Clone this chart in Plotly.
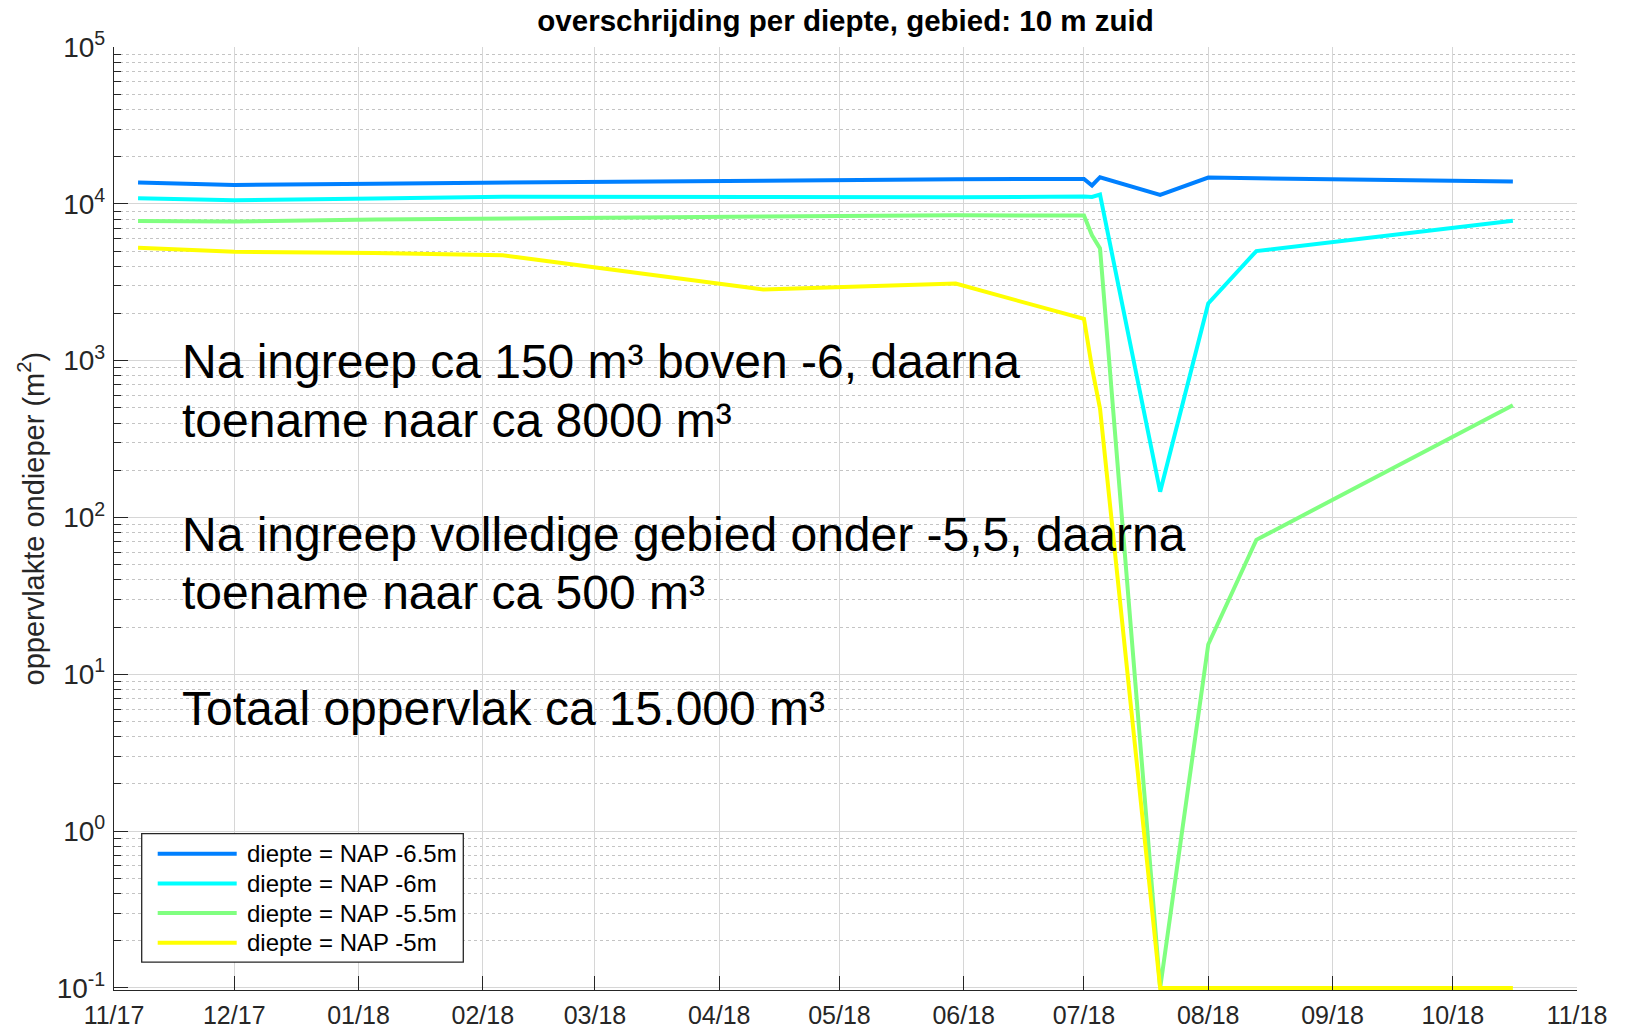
import plotly.graph_objects as go

# Survey dates and exceeded area (m2) per depth level
dates = ["2017-11-07", "2017-12-01", "2018-01-05", "2018-02-06", "2018-04-12",
         "2018-05-30", "2018-07-01", "2018-07-03", "2018-07-05", "2018-07-20",
         "2018-08-01", "2018-08-13", "2018-10-16"]

nap_65 = [13700, 13200, 13450, 13700, 14050, 14350, 14420, 13090, 14780, 11400,
          14700, 14560, 13900]
nap_60 = [10850, 10550, 10800, 11100, 11050, 11000, 11140, 11050, 11470, 146,
          2318, 5000, 7800]
nap_55 = [7780, 7720, 7950, 8100, 8300, 8450, 8430, 6300, 5200, 0.1,
          15.5, 72, 520]
nap_50 = [5250, 4950, 4850, 4700, 2840, 3100, 1845, 900, 495, 0.1,
          0.1, 0.1, 0.1]

series_names = ["diepte = NAP -6.5m", "diepte = NAP -6m",
                "diepte = NAP -5.5m", "diepte = NAP -5m"]
series_values = [nap_65, nap_60, nap_55, nap_50]
series_colors = ["#0080FF", "#00FFFF", "#80FF80", "#FFFF00"]

y_tick_vals = [0.1, 1, 10, 100, 1000, 10000, 100000]
y_tick_text = ["10<sup>-1</sup>", "10<sup>0</sup>", "10<sup>1</sup>", "10<sup>2</sup>",
               "10<sup>3</sup>", "10<sup>4</sup>", "10<sup>5</sup>"]
y_minor_vals = [m * 10 ** e for e in range(-1, 5) for m in range(2, 10)]

notes = [
    "Na ingreep ca 150 m³ boven -6, daarna",
    "toename naar ca 8000 m³",
    "Na ingreep volledige gebied onder -5,5, daarna",
    "toename naar ca 500 m³",
    "Totaal oppervlak ca 15.000 m³",
]

FONT = "Liberation Sans, Arial, sans-serif"
AX = "#262626"

W, H = 1625, 1028
L, R, T, B = 114, 1577, 46.6, 989.6


def px(x):
    return (x - L) / (R - L)


def py(y):
    return (B - y) / (B - T)


fig = go.Figure()
for name, vals, col in zip(series_names, series_values, series_colors):
    fig.add_trace(go.Scatter(x=dates, y=vals, mode="lines", name=name,
                             line=dict(color=col, width=4), showlegend=False))

shapes = []
annotations = []

# legend box
shapes.append(dict(type="rect", xref="paper", yref="paper", layer="above",
                   x0=px(141.7), x1=px(463.3), y0=py(961.7), y1=py(833.3),
                   fillcolor="white", line=dict(color=AX, width=1.3)))
for i, (name, col) in enumerate(zip(series_names, series_colors)):
    yy = py(853.3 + i * 29.7)
    shapes.append(dict(type="line", xref="paper", yref="paper", layer="above",
                       x0=px(157.7), x1=px(236.7), y0=yy, y1=yy,
                       line=dict(color=col, width=4)))
    annotations.append(dict(xref="paper", yref="paper", x=px(245), y=yy,
                            xanchor="left", yanchor="middle", showarrow=False,
                            text=name, font=dict(family=FONT, size=24, color="black")))

# explanatory notes
note_y = [360.7, 419.7, 533.7, 591.8, 707.9]
for txt, yy in zip(notes, note_y):
    annotations.append(dict(xref="paper", yref="paper", x=px(180), y=py(yy),
                            xanchor="left", yanchor="middle", showarrow=False,
                            text=txt, font=dict(family=FONT, size=48, color="black")))

# y-axis title
annotations.append(dict(xref="paper", yref="paper", x=px(31), y=0.5,
                        xanchor="center", yanchor="middle", showarrow=False,
                        textangle=-90, text="oppervlakte ondieper (m<sup>2</sup>)",
                        font=dict(family=FONT, size=29, color=AX)))

fig.update_layout(
    width=W, height=H,
    margin=dict(l=L, r=W - R, t=T, b=H - B, pad=0),
    paper_bgcolor="white", plot_bgcolor="white",
    title=dict(text="<b>overschrijding per diepte, gebied: 10 m zuid</b>",
               x=0.5, xref="paper", xanchor="center", y=1 - 21 / H, yanchor="middle",
               font=dict(family=FONT, size=29.5, color="black")),
    shapes=shapes, annotations=annotations,
    xaxis=dict(
        type="date", range=["2017-11-01", "2018-11-01"],
        tick0="2017-11-01", dtick="M1", tickformat="%m/%y",
        showgrid=True, gridcolor="#D6D6D6", gridwidth=1,
        showline=True, linecolor=AX, linewidth=1.3,
        ticks="inside", ticklen=14, tickcolor=AX, tickwidth=1.3,
        tickfont=dict(family=FONT, size=25, color=AX),
        ticklabelstandoff=3, automargin=False, zeroline=False,
    ),
    yaxis=dict(
        type="log", range=[-1.013, 5],
        tickmode="array", tickvals=y_tick_vals, ticktext=y_tick_text,
        showgrid=True, gridcolor="#D6D6D6", gridwidth=1,
        showline=True, linecolor=AX, linewidth=1.3,
        ticks="inside", ticklen=14, tickcolor=AX, tickwidth=1.3,
        tickfont=dict(family=FONT, size=28, color=AX),
        ticklabelstandoff=2, automargin=False, zeroline=False,
        minor=dict(tickmode="array", tickvals=y_minor_vals, showgrid=True,
                   gridcolor="#C4C4C4", griddash="dot", gridwidth=1,
                   ticks="inside", ticklen=7, tickcolor=AX, tickwidth=1.3),
    ),
)

fig.write_html("out.html")
